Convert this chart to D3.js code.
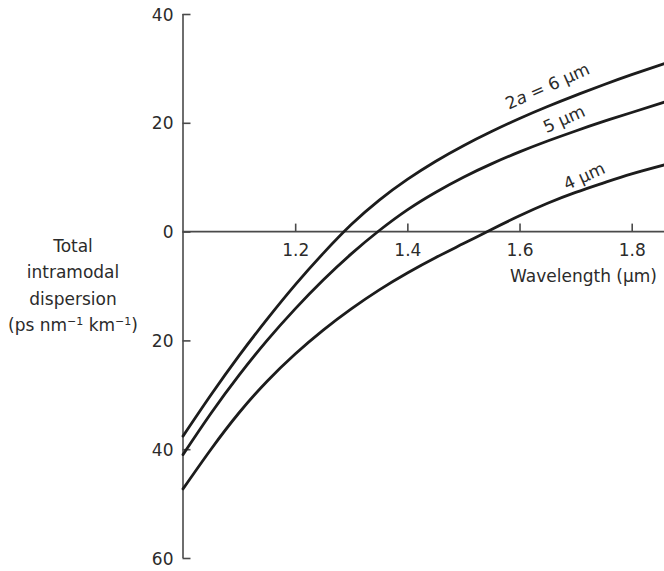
<!DOCTYPE html>
<html>
<head>
<meta charset="utf-8">
<script src="https://cdn.jsdelivr.net/npm/d3@7"></script>
<style>
  html, body { margin: 0; padding: 0; background: #fff; }
  svg { display: block; font-family: "DejaVu Sans", sans-serif; }
</style>
</head>
<body>
<svg id="chart" width="664" height="571"></svg>
<script>
// ---- data ----
const wavelengths = [1.00, 1.05, 1.10, 1.15, 1.20, 1.25, 1.30, 1.35, 1.40, 1.45, 1.50, 1.55, 1.60, 1.65, 1.70, 1.75, 1.80, 1.86];
const core6um = [-37.6, -30.0, -22.8, -16.1, -9.8, -4.0, 1.3, 5.8, 9.6, 12.9, 15.8, 18.4, 20.8, 23.0, 25.05, 27.0, 28.85, 30.95];
const core5um = [-41.0, -33.4, -26.4, -20.0, -14.2, -8.9, -4.1, 0.2, 4.0, 7.2, 10.0, 12.45, 14.65, 16.65, 18.5, 20.25, 21.9, 23.85];
const core4um = [-47.3, -40.0, -33.3, -27.5, -22.5, -18.1, -14.2, -10.7, -7.6, -4.8, -2.2, 0.4, 2.9, 5.2, 7.2, 8.95, 10.6, 12.3];
const xTicks = [1.2, 1.4, 1.6, 1.8];
const yTicks = [40, 20, 0, -20, -40, -60];
const yTickLabels = ["40", "20", "0", "20", "40", "60"];

// ---- layout ----
const svg = d3.select("#chart");
const x = d3.scaleLinear().domain([1.0, 1.8]).range([183, 631.7]);
const y = d3.scaleLinear().domain([40, -60]).range([14, 558]);
const axisColor = "#4a4a4a";
const textColor = "#2b2b2b";

// y axis (ticks inward to the right)
const yAxis = d3.axisRight(y).tickValues(yTicks).tickSize(8)
  .tickFormat((d, i) => yTickLabels[i]);
const gy = svg.append("g").attr("transform", `translate(${x(1.0) - 0.5},0)`).call(yAxis);
gy.select(".domain").attr("d", `M0.5,${y(40)}V${y(-60)}`).attr("stroke", axisColor).attr("stroke-width", 1.6);
gy.selectAll(".tick line").attr("stroke", axisColor).attr("stroke-width", 1.6);
gy.selectAll(".tick text")
  .attr("x", -9).attr("text-anchor", "end")
  .attr("dy", "0.36em")
  .attr("font-size", 17).attr("font-family", "DejaVu Sans")
  .attr("fill", textColor);

// x axis at zero, ticks upward
const xAxis = d3.axisTop(x).tickValues(xTicks).tickSize(8).tickFormat(d3.format(".1f"));
const gx = svg.append("g").attr("transform", `translate(0,${y(0)})`).call(xAxis);
gx.select(".domain").attr("d", `M${x(1.0) - 0.5},0H664`).attr("stroke", axisColor).attr("stroke-width", 1.6);
gx.selectAll(".tick line").attr("stroke", axisColor).attr("stroke-width", 1.6);
gx.selectAll(".tick text")
  .attr("y", 24).attr("dy", 0)
  .attr("font-size", 17).attr("font-family", "DejaVu Sans")
  .attr("fill", textColor);

// x axis title
svg.append("text").attr("x", 657).attr("y", 282)
  .attr("text-anchor", "end").attr("font-size", 17).attr("fill", textColor)
  .text("Wavelength (µm)");

// y axis title
const yTitle = svg.append("text").attr("text-anchor", "middle").attr("font-size", 17).attr("fill", textColor);
yTitle.append("tspan").attr("x", 73).attr("y", 252).text("Total");
yTitle.append("tspan").attr("x", 73).attr("y", 278).text("intramodal");
yTitle.append("tspan").attr("x", 73).attr("y", 305).text("dispersion");
const last = svg.append("text").attr("x", 73).attr("y", 331).attr("text-anchor", "middle")
  .attr("font-size", 17).attr("fill", textColor);
last.append("tspan").text("(ps nm");
last.append("tspan").attr("font-size", 11).attr("dy", -6).text("−1");
last.append("tspan").attr("dy", 6).text(" km");
last.append("tspan").attr("font-size", 11).attr("dy", -6).text("−1");
last.append("tspan").attr("dy", 6).text(")");

// curves
const series = [core6um, core5um, core4um];
const line = d3.line().x((d, i) => x(wavelengths[i])).y(d => y(d)).curve(d3.curveNatural);
svg.append("g").selectAll("path").data(series).join("path")
  .attr("d", line)
  .attr("fill", "none")
  .attr("stroke", "#1c1c1c")
  .attr("stroke-width", 2.8)
  .attr("stroke-linecap", "round");

// curve labels
const labelAnchors = [
  { lam: 1.581, val: 22.4, angle: -24, parts: [["2", false], ["a", true], [" = 6 µm", false]] },
  { lam: 1.648, val: 18.1, angle: -24, parts: [["5 µm", false]] },
  { lam: 1.684, val: 7.6, angle: -24, parts: [["4 µm", false]] }
];
labelAnchors.forEach(l => {
  const t = svg.append("text")
    .attr("transform", `translate(${x(l.lam)},${y(l.val)}) rotate(${l.angle})`)
    .attr("font-size", 17).attr("fill", textColor);
  l.parts.forEach(p => {
    t.append("tspan").attr("font-style", p[1] ? "italic" : "normal").text(p[0]);
  });
});
</script>
</body>
</html>
